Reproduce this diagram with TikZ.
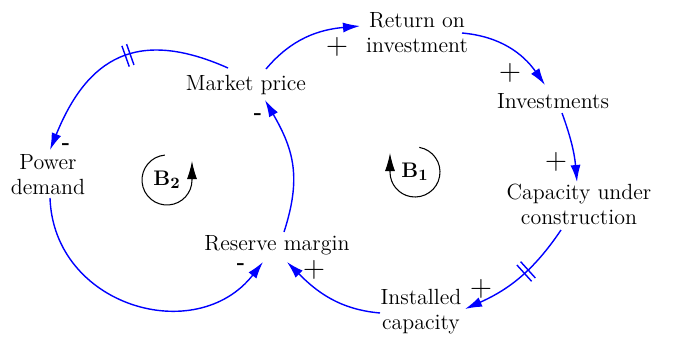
\documentclass[tikz,border=0pt]{standalone}
\usetikzlibrary{arrows.meta,decorations.markings}

\begin{document}
\begin{tikzpicture}
 [var/.style={align=center, inner sep=1pt, font=\fontsize{12.5}{14.2}\selectfont},
  plus sign/.style={inner sep=0pt, font=\fontsize{16}{18}\selectfont},
  minus sign/.style={inner sep=0pt, font=\fontsize{12.5}{14.2}\selectfont\bfseries},
  link/.style={blue, line width=0.8pt, -{Latex[length=3.4mm,width=2mm]}, looseness=#1},
  link/.default=1,
  delay/.style={postaction={decorate, decoration={markings, mark=at position #1 with
    {\draw[-, blue, line width=0.8pt] (-0.05,-0.22) -- (-0.05,0.22) (0.05,-0.22) -- (0.05,0.22);}}}},
  loopmark/.style={line width=0.6pt, -{Latex[length=3.6mm,width=2mm]}}]

 \useasboundingbox (0,0) rectangle (13.5,6.74);

 \node[var] (roi) at (8.34,6.08) {Return on\\investment};
 \node[var] (mp) at (4.92,5.04) {Market price};
 \node[var] (inv) at (11.06,4.72) {Investments};
 \node[var] (pd) at (0.96,3.24) {Power\\demand};
 \node[var] (cuc) at (11.58,2.66) {Capacity under\\construction};
 \node[var] (rm) at (5.54,1.84) {Reserve margin};
 \node[var] (ic) at (8.42,0.50) {Installed\\capacity};

 \node[var] (b2) at (3.34,3.14) {$\mathbf{B_2}$};
 \node[var] (b1) at (8.30,3.30) {$\mathbf{B_1}$};

 \node[plus sign] (s1) at (6.74,5.80) {$+$};
 \node[plus sign] (s2) at (10.20,5.28) {$+$};
 \node[plus sign] (s3) at (11.12,3.50) {$+$};
 \node[plus sign] (s4) at (9.62,0.96) {$+$};
 \node[plus sign] (s5) at (6.28,1.34) {$+$};
 \node[minus sign] (s6) at (5.16,4.40) {-};
 \node[minus sign] (s7) at (1.32,3.80) {-};
 \node[minus sign] (s8) at (4.82,1.40) {-};

 \path
  ([shift={(0.40,0.32)}]mp.center) edge[link, out=50, in=185] ([shift={(-1.14,0.14)}]roi.center)
  ([shift={(0.90,0)}]roi.center) edge[link, out=-5, in=125] ([shift={(-0.16,0.32)}]inv.center)
  ([shift={(0.18,-0.24)}]inv.center) edge[link, out=-70, in=95] ([shift={(-0.04,0.44)}]cuc.center)
  ([shift={(-0.36,-0.52)}]cuc.center) edge[link, out=-124, in=24, delay=0.43] ([shift={(0.88,0.06)}]ic.center)
  ([shift={(-0.82,-0.02)}]ic.center) edge[link, out=175, in=-45] ([shift={(0.20,-0.34)}]rm.center)
  ([shift={(0.14,0.26)}]rm.center) edge[link=1.1, out=72, in=-60] ([shift={(0.38,-0.30)}]mp.center)
  ([shift={(-0.36,0.34)}]mp.center) edge[link=1.3, out=156, in=68, delay=0.45] ([shift={(0.04,0.50)}]pd.center)
  ([shift={(0.04,-0.46)}]pd.center) edge[link=1.25, out=-88, in=232] ([shift={(-0.28,-0.34)}]rm.center);

 \draw[loopmark] ([shift={(95:0.5)}]b2.center) arc[start angle=95, end angle=360, radius=0.5] -- ++(0,0.38);
 \draw[loopmark] ([shift={(80:0.5)}]b1.center) arc[start angle=80, end angle=-180, radius=0.5] -- ++(0,0.38);

\end{tikzpicture}
\end{document}
